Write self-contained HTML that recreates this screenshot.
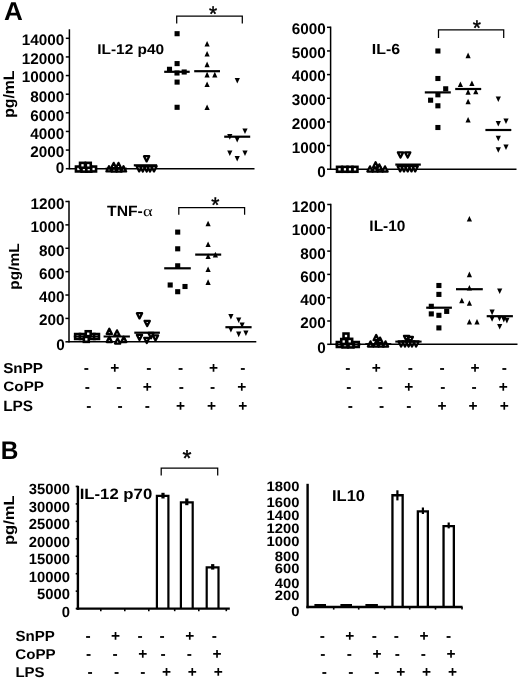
<!DOCTYPE html>
<html><head><meta charset="utf-8"><style>
html,body{margin:0;padding:0;background:#fff;}
svg{display:block;will-change:transform;filter:blur(0.4px);}
text{font-family:"Liberation Sans", sans-serif;font-weight:bold;fill:#000;text-rendering:geometricPrecision;}
.o{fill:#fff;stroke:#000;stroke-width:2.6;stroke-linejoin:miter;}
.t{fill:#fff;stroke:#000;stroke-width:2.3;stroke-linejoin:round;}
</style></head><body>
<svg width="520" height="681" viewBox="0 0 520 681">
<rect width="520" height="681" fill="#fff"/>
<text transform="translate(4.07,20.35) scale(1.0102,1)" font-size="25.80">A</text>
<line x1="69.40" y1="29.25" x2="69.40" y2="169.45" stroke="#000" stroke-width="1.5"/>
<line x1="65.80" y1="168.70" x2="69.40" y2="168.70" stroke="#000" stroke-width="1.5"/>
<text transform="translate(64.36,173.05) scale(1.0000,1.0000)" font-size="15.30" text-anchor="end">0</text>
<line x1="65.80" y1="150.07" x2="69.40" y2="150.07" stroke="#000" stroke-width="1.5"/>
<text transform="translate(64.33,157.25) scale(1.0000,1.0000)" font-size="15.30" text-anchor="end">2000</text>
<line x1="65.80" y1="131.44" x2="69.40" y2="131.44" stroke="#000" stroke-width="1.5"/>
<text transform="translate(64.33,139.15) scale(1.0000,1.0000)" font-size="15.30" text-anchor="end">4000</text>
<line x1="65.80" y1="112.81" x2="69.40" y2="112.81" stroke="#000" stroke-width="1.5"/>
<text transform="translate(64.33,120.95) scale(1.0000,1.0000)" font-size="15.30" text-anchor="end">6000</text>
<line x1="65.80" y1="94.19" x2="69.40" y2="94.19" stroke="#000" stroke-width="1.5"/>
<text transform="translate(64.33,101.65) scale(1.0000,1.0000)" font-size="15.30" text-anchor="end">8000</text>
<line x1="65.80" y1="75.56" x2="69.40" y2="75.56" stroke="#000" stroke-width="1.5"/>
<text transform="translate(64.27,82.45) scale(1.0000,1.0000)" font-size="15.30" text-anchor="end">10000</text>
<line x1="65.80" y1="56.93" x2="69.40" y2="56.93" stroke="#000" stroke-width="1.5"/>
<text transform="translate(64.27,63.65) scale(1.0000,1.0000)" font-size="15.30" text-anchor="end">12000</text>
<line x1="65.80" y1="38.30" x2="69.40" y2="38.30" stroke="#000" stroke-width="1.5"/>
<text transform="translate(64.27,44.95) scale(1.0000,1.0000)" font-size="15.30" text-anchor="end">14000</text>
<line x1="69.40" y1="168.70" x2="254.50" y2="168.70" stroke="#000" stroke-width="1.5"/>
<text transform="translate(97.17,54.35) scale(1.0941,1)" font-size="14.14">IL-12 p40</text>
<text transform="translate(13.50,117.86) rotate(-90) scale(1.0380,1)" font-size="15.21">pg/mL</text>
<path d="M176.70 23.50V16.00H242.30V23.50" fill="none" stroke="#000" stroke-width="1.25"/>
<text transform="translate(208.96,20.99)" font-size="21.00" font-weight="normal" style="font-weight:normal" stroke="#000" stroke-width="0.45">*</text>
<rect x="75.95" y="166.55" width="4.9" height="4.9" class="o"/>
<rect x="81.55" y="166.75" width="4.9" height="4.9" class="o"/>
<rect x="86.35" y="166.75" width="4.9" height="4.9" class="o"/>
<rect x="91.15" y="166.55" width="4.9" height="4.9" class="o"/>
<rect x="80.05" y="162.85" width="4.9" height="4.9" class="o"/>
<rect x="85.85" y="162.85" width="4.9" height="4.9" class="o"/>
<path d="M109.00 166.20L111.60 171.40L106.40 171.40Z" class="t"/>
<path d="M114.00 166.40L116.60 171.60L111.40 171.60Z" class="t"/>
<path d="M119.00 166.40L121.60 171.60L116.40 171.60Z" class="t"/>
<path d="M123.50 166.20L126.10 171.40L120.90 171.40Z" class="t"/>
<path d="M113.70 162.90L116.30 168.10L111.10 168.10Z" class="t"/>
<path d="M118.50 162.90L121.10 168.10L115.90 168.10Z" class="t"/>
<line x1="105.50" y1="168.60" x2="127.10" y2="168.60" stroke="#000" stroke-width="1.8"/>
<path d="M136.60 166.20L141.80 166.20L139.20 171.40Z" class="t"/>
<path d="M140.20 166.40L145.40 166.40L142.80 171.60Z" class="t"/>
<path d="M144.10 166.40L149.30 166.40L146.70 171.60Z" class="t"/>
<path d="M147.40 166.40L152.60 166.40L150.00 171.60Z" class="t"/>
<path d="M151.40 166.20L156.60 166.20L154.00 171.40Z" class="t"/>
<line x1="133.80" y1="165.30" x2="157.10" y2="165.30" stroke="#000" stroke-width="2.2"/>
<path d="M144.00 156.20L149.20 156.20L146.60 161.40Z" class="t"/>
<rect x="174.55" y="31.15" width="5.1" height="5.1"/>
<rect x="174.55" y="61.05" width="5.1" height="5.1"/>
<rect x="166.95" y="66.75" width="5.1" height="5.1"/>
<rect x="174.45" y="70.45" width="5.1" height="5.1"/>
<rect x="181.65" y="69.45" width="5.1" height="5.1"/>
<rect x="174.55" y="79.55" width="5.1" height="5.1"/>
<rect x="174.55" y="104.75" width="5.1" height="5.1"/>
<line x1="164.20" y1="71.80" x2="189.70" y2="71.80" stroke="#000" stroke-width="2.2"/>
<path d="M207.10 40.90L209.70 46.50L204.50 46.50Z"/>
<path d="M207.10 51.00L209.70 56.60L204.50 56.60Z"/>
<path d="M207.10 61.60L209.70 67.20L204.50 67.20Z"/>
<path d="M207.10 71.80L209.70 77.40L204.50 77.40Z"/>
<path d="M214.80 71.80L217.40 77.40L212.20 77.40Z"/>
<path d="M207.10 81.40L209.70 87.00L204.50 87.00Z"/>
<path d="M207.10 104.40L209.70 110.00L204.50 110.00Z"/>
<line x1="194.20" y1="71.20" x2="220.00" y2="71.20" stroke="#000" stroke-width="2.2"/>
<path d="M234.70 78.00L239.90 78.00L237.30 83.60Z"/>
<path d="M242.40 128.40L247.60 128.40L245.00 134.00Z"/>
<path d="M227.20 134.10L232.40 134.10L229.80 139.70Z"/>
<path d="M234.60 137.00L239.80 137.00L237.20 142.60Z"/>
<path d="M227.20 150.50L232.40 150.50L229.80 156.10Z"/>
<path d="M242.40 150.50L247.60 150.50L245.00 156.10Z"/>
<path d="M234.60 156.00L239.80 156.00L237.20 161.60Z"/>
<line x1="224.20" y1="136.70" x2="250.20" y2="136.70" stroke="#000" stroke-width="2.2"/>
<line x1="330.60" y1="26.55" x2="330.60" y2="169.95" stroke="#000" stroke-width="1.5"/>
<line x1="327.00" y1="169.20" x2="330.60" y2="169.20" stroke="#000" stroke-width="1.5"/>
<text transform="translate(325.76,176.55) scale(1.0000,1.0000)" font-size="15.30" text-anchor="end">0</text>
<line x1="327.00" y1="145.55" x2="330.60" y2="145.55" stroke="#000" stroke-width="1.5"/>
<text transform="translate(325.73,152.85) scale(1.0000,1.0000)" font-size="15.30" text-anchor="end">1000</text>
<line x1="327.00" y1="121.90" x2="330.60" y2="121.90" stroke="#000" stroke-width="1.5"/>
<text transform="translate(325.73,129.15) scale(1.0000,1.0000)" font-size="15.30" text-anchor="end">2000</text>
<line x1="327.00" y1="98.25" x2="330.60" y2="98.25" stroke="#000" stroke-width="1.5"/>
<text transform="translate(325.73,104.95) scale(1.0000,1.0000)" font-size="15.30" text-anchor="end">3000</text>
<line x1="327.00" y1="74.60" x2="330.60" y2="74.60" stroke="#000" stroke-width="1.5"/>
<text transform="translate(325.73,81.25) scale(1.0000,1.0000)" font-size="15.30" text-anchor="end">4000</text>
<line x1="327.00" y1="50.95" x2="330.60" y2="50.95" stroke="#000" stroke-width="1.5"/>
<text transform="translate(325.73,57.75) scale(1.0000,1.0000)" font-size="15.30" text-anchor="end">5000</text>
<line x1="327.00" y1="27.30" x2="330.60" y2="27.30" stroke="#000" stroke-width="1.5"/>
<text transform="translate(325.73,34.25) scale(1.0000,1.0000)" font-size="15.30" text-anchor="end">6000</text>
<line x1="330.60" y1="169.20" x2="516.50" y2="169.20" stroke="#000" stroke-width="1.5"/>
<text transform="translate(371.84,53.75) scale(1.0931,1)" font-size="14.57">IL-6</text>
<path d="M438.50 37.90V29.80H503.70V37.90" fill="none" stroke="#000" stroke-width="1.25"/>
<text transform="translate(472.80,35.19)" font-size="21.00" font-weight="normal" style="font-weight:normal" stroke="#000" stroke-width="0.45">*</text>
<rect x="337.05" y="166.85" width="4.9" height="4.9" class="o"/>
<rect x="342.55" y="166.85" width="4.9" height="4.9" class="o"/>
<rect x="347.55" y="166.85" width="4.9" height="4.9" class="o"/>
<rect x="352.55" y="166.85" width="4.9" height="4.9" class="o"/>
<path d="M370.00 166.40L372.60 171.60L367.40 171.60Z" class="t"/>
<path d="M375.00 166.40L377.60 171.60L372.40 171.60Z" class="t"/>
<path d="M380.00 166.40L382.60 171.60L377.40 171.60Z" class="t"/>
<path d="M385.00 166.40L387.60 171.60L382.40 171.60Z" class="t"/>
<path d="M375.60 162.20L378.20 167.40L373.00 167.40Z" class="t"/>
<path d="M379.30 164.40L381.90 169.60L376.70 169.60Z" class="t"/>
<path d="M397.60 166.20L402.80 166.20L400.20 171.40Z" class="t"/>
<path d="M401.40 166.20L406.60 166.20L404.00 171.40Z" class="t"/>
<path d="M405.10 166.20L410.30 166.20L407.70 171.40Z" class="t"/>
<path d="M408.90 166.20L414.10 166.20L411.50 171.40Z" class="t"/>
<path d="M412.60 166.20L417.80 166.20L415.20 171.40Z" class="t"/>
<line x1="395.30" y1="164.60" x2="420.80" y2="164.60" stroke="#000" stroke-width="2.2"/>
<path d="M397.90 152.40L403.10 152.40L400.50 157.60Z" class="t"/>
<path d="M405.10 152.40L410.30 152.40L407.70 157.60Z" class="t"/>
<rect x="435.35" y="48.45" width="5.1" height="5.1"/>
<rect x="435.35" y="75.95" width="5.1" height="5.1"/>
<rect x="443.15" y="86.25" width="5.1" height="5.1"/>
<rect x="435.35" y="92.25" width="5.1" height="5.1"/>
<rect x="428.05" y="97.65" width="5.1" height="5.1"/>
<rect x="435.35" y="103.25" width="5.1" height="5.1"/>
<rect x="435.35" y="124.95" width="5.1" height="5.1"/>
<line x1="424.80" y1="92.40" x2="450.80" y2="92.40" stroke="#000" stroke-width="2.2"/>
<path d="M468.10 52.60L470.70 58.20L465.50 58.20Z"/>
<path d="M460.40 81.40L463.00 87.00L457.80 87.00Z"/>
<path d="M471.90 80.50L474.50 86.10L469.30 86.10Z"/>
<path d="M468.10 89.10L470.70 94.70L465.50 94.70Z"/>
<path d="M475.80 88.70L478.40 94.30L473.20 94.30Z"/>
<path d="M468.10 98.70L470.70 104.30L465.50 104.30Z"/>
<path d="M468.10 117.00L470.70 122.60L465.50 122.60Z"/>
<line x1="455.20" y1="89.00" x2="481.20" y2="89.00" stroke="#000" stroke-width="2.2"/>
<path d="M495.70 96.40L500.90 96.40L498.30 102.00Z"/>
<path d="M495.70 120.90L500.90 120.90L498.30 126.50Z"/>
<path d="M503.40 118.50L508.60 118.50L506.00 124.10Z"/>
<path d="M495.70 135.70L500.90 135.70L498.30 141.30Z"/>
<path d="M495.70 147.20L500.90 147.20L498.30 152.80Z"/>
<path d="M503.40 144.50L508.60 144.50L506.00 150.10Z"/>
<line x1="485.40" y1="130.00" x2="511.30" y2="130.00" stroke="#000" stroke-width="2.2"/>
<line x1="69.00" y1="200.75" x2="69.00" y2="342.55" stroke="#000" stroke-width="1.5"/>
<line x1="65.40" y1="341.80" x2="69.00" y2="341.80" stroke="#000" stroke-width="1.5"/>
<text transform="translate(64.66,350.25) scale(1.0000,1.0000)" font-size="15.30" text-anchor="end">0</text>
<line x1="65.40" y1="318.42" x2="69.00" y2="318.42" stroke="#000" stroke-width="1.5"/>
<text transform="translate(64.54,324.75) scale(1.0000,1.0000)" font-size="15.30" text-anchor="end">200</text>
<line x1="65.40" y1="295.03" x2="69.00" y2="295.03" stroke="#000" stroke-width="1.5"/>
<text transform="translate(64.54,301.75) scale(1.0000,1.0000)" font-size="15.30" text-anchor="end">400</text>
<line x1="65.40" y1="271.65" x2="69.00" y2="271.65" stroke="#000" stroke-width="1.5"/>
<text transform="translate(64.54,278.85) scale(1.0000,1.0000)" font-size="15.30" text-anchor="end">600</text>
<line x1="65.40" y1="248.27" x2="69.00" y2="248.27" stroke="#000" stroke-width="1.5"/>
<text transform="translate(64.54,255.65) scale(1.0000,1.0000)" font-size="15.30" text-anchor="end">800</text>
<line x1="65.40" y1="224.88" x2="69.00" y2="224.88" stroke="#000" stroke-width="1.5"/>
<text transform="translate(64.63,232.35) scale(1.0000,1.0000)" font-size="15.30" text-anchor="end">1000</text>
<line x1="65.40" y1="201.50" x2="69.00" y2="201.50" stroke="#000" stroke-width="1.5"/>
<text transform="translate(64.63,208.65) scale(1.0000,1.0000)" font-size="15.30" text-anchor="end">1200</text>
<line x1="69.00" y1="341.80" x2="256.30" y2="341.80" stroke="#000" stroke-width="1.5"/>
<text transform="translate(107.09,215.95) scale(1.0617,1)" font-size="14.78">TNF-</text>
<text transform="translate(143.01,216.25) scale(1.2407,1)" font-size="14.89" style="font-family:&quot;Liberation Serif&quot;,serif;font-weight:normal">α</text>
<text transform="translate(19.20,289.63) rotate(-90) scale(1.0678,1)" font-size="14.50">pg/mL</text>
<path d="M178.80 214.80V207.50H244.60V214.80" fill="none" stroke="#000" stroke-width="1.25"/>
<text transform="translate(211.31,211.99)" font-size="21.00" font-weight="normal" style="font-weight:normal" stroke="#000" stroke-width="0.45">*</text>
<rect x="75.15" y="334.05" width="4.9" height="4.9" class="o"/>
<rect x="79.95" y="334.05" width="4.9" height="4.9" class="o"/>
<rect x="89.55" y="334.05" width="4.9" height="4.9" class="o"/>
<rect x="94.05" y="334.05" width="4.9" height="4.9" class="o"/>
<rect x="83.85" y="336.95" width="4.9" height="4.9" class="o"/>
<rect x="85.75" y="331.25" width="4.9" height="4.9" class="o"/>
<line x1="73.80" y1="336.50" x2="99.70" y2="336.50" stroke="#000" stroke-width="1.8"/>
<path d="M109.30 328.70L111.90 333.90L106.70 333.90Z" class="t"/>
<path d="M117.00 330.40L119.60 335.60L114.40 335.60Z" class="t"/>
<path d="M109.30 336.80L111.90 342.00L106.70 342.00Z" class="t"/>
<path d="M117.60 338.40L120.20 343.60L115.00 343.60Z" class="t"/>
<path d="M123.80 336.80L126.40 342.00L121.20 342.00Z" class="t"/>
<line x1="103.60" y1="336.50" x2="129.90" y2="336.50" stroke="#000" stroke-width="2.0"/>
<path d="M136.90 313.20L142.10 313.20L139.50 318.40Z" class="t"/>
<path d="M144.60 320.90L149.80 320.90L147.20 326.10Z" class="t"/>
<path d="M136.90 334.90L142.10 334.90L139.50 340.10Z" class="t"/>
<path d="M144.20 337.80L149.40 337.80L146.80 343.00Z" class="t"/>
<path d="M148.40 333.00L153.60 333.00L151.00 338.20Z" class="t"/>
<path d="M152.90 335.40L158.10 335.40L155.50 340.60Z" class="t"/>
<line x1="134.30" y1="332.70" x2="159.90" y2="332.70" stroke="#000" stroke-width="2.2"/>
<rect x="175.15" y="229.55" width="5.1" height="5.1"/>
<rect x="175.15" y="246.25" width="5.1" height="5.1"/>
<rect x="175.15" y="263.25" width="5.1" height="5.1"/>
<rect x="167.65" y="282.45" width="5.1" height="5.1"/>
<rect x="182.45" y="283.95" width="5.1" height="5.1"/>
<rect x="175.15" y="289.15" width="5.1" height="5.1"/>
<line x1="164.20" y1="268.30" x2="190.80" y2="268.30" stroke="#000" stroke-width="2.2"/>
<path d="M208.10 220.70L210.70 226.30L205.50 226.30Z"/>
<path d="M208.10 241.40L210.70 247.00L205.50 247.00Z"/>
<path d="M208.10 253.40L210.70 259.00L205.50 259.00Z"/>
<path d="M215.40 251.80L218.00 257.40L212.80 257.40Z"/>
<path d="M208.10 266.40L210.70 272.00L205.50 272.00Z"/>
<path d="M208.10 279.30L210.70 284.90L205.50 284.90Z"/>
<line x1="195.20" y1="254.60" x2="221.20" y2="254.60" stroke="#000" stroke-width="2.2"/>
<path d="M228.30 314.00L233.50 314.00L230.90 319.60Z"/>
<path d="M236.10 317.40L241.30 317.40L238.70 323.00Z"/>
<path d="M239.50 322.40L244.70 322.40L242.10 328.00Z"/>
<path d="M228.30 327.00L233.50 327.00L230.90 332.60Z"/>
<path d="M236.10 331.60L241.30 331.60L238.70 337.20Z"/>
<path d="M243.30 330.50L248.50 330.50L245.90 336.10Z"/>
<line x1="225.40" y1="327.20" x2="251.60" y2="327.20" stroke="#000" stroke-width="2.2"/>
<line x1="330.80" y1="203.75" x2="330.80" y2="345.05" stroke="#000" stroke-width="1.5"/>
<line x1="327.20" y1="344.30" x2="330.80" y2="344.30" stroke="#000" stroke-width="1.5"/>
<text transform="translate(325.86,352.75) scale(1.0000,1.0000)" font-size="15.30" text-anchor="end">0</text>
<line x1="327.20" y1="321.00" x2="330.80" y2="321.00" stroke="#000" stroke-width="1.5"/>
<text transform="translate(325.74,327.65) scale(1.0000,1.0000)" font-size="15.30" text-anchor="end">200</text>
<line x1="327.20" y1="297.70" x2="330.80" y2="297.70" stroke="#000" stroke-width="1.5"/>
<text transform="translate(325.74,304.75) scale(1.0000,1.0000)" font-size="15.30" text-anchor="end">400</text>
<line x1="327.20" y1="274.40" x2="330.80" y2="274.40" stroke="#000" stroke-width="1.5"/>
<text transform="translate(325.74,282.35) scale(1.0000,1.0000)" font-size="15.30" text-anchor="end">600</text>
<line x1="327.20" y1="251.10" x2="330.80" y2="251.10" stroke="#000" stroke-width="1.5"/>
<text transform="translate(325.74,258.65) scale(1.0000,1.0000)" font-size="15.30" text-anchor="end">800</text>
<line x1="327.20" y1="227.80" x2="330.80" y2="227.80" stroke="#000" stroke-width="1.5"/>
<text transform="translate(325.83,235.35) scale(1.0000,1.0000)" font-size="15.30" text-anchor="end">1000</text>
<line x1="327.20" y1="204.50" x2="330.80" y2="204.50" stroke="#000" stroke-width="1.5"/>
<text transform="translate(325.83,211.85) scale(1.0000,1.0000)" font-size="15.30" text-anchor="end">1200</text>
<line x1="330.80" y1="344.30" x2="517.50" y2="344.30" stroke="#000" stroke-width="1.5"/>
<text transform="translate(369.37,230.65) scale(1.0203,1)" font-size="15.14">IL-10</text>
<rect x="336.85" y="342.05" width="4.9" height="4.9" class="o"/>
<rect x="342.55" y="342.55" width="4.9" height="4.9" class="o"/>
<rect x="348.55" y="342.55" width="4.9" height="4.9" class="o"/>
<rect x="353.85" y="342.05" width="4.9" height="4.9" class="o"/>
<rect x="341.25" y="339.05" width="4.9" height="4.9" class="o"/>
<rect x="347.25" y="338.85" width="4.9" height="4.9" class="o"/>
<rect x="343.55" y="333.55" width="4.9" height="4.9" class="o"/>
<line x1="335.30" y1="344.40" x2="360.70" y2="344.40" stroke="#000" stroke-width="1.8"/>
<path d="M370.50 341.40L373.10 346.60L367.90 346.60Z" class="t"/>
<path d="M376.00 341.40L378.60 346.60L373.40 346.60Z" class="t"/>
<path d="M381.00 341.40L383.60 346.60L378.40 346.60Z" class="t"/>
<path d="M385.50 341.40L388.10 346.60L382.90 346.60Z" class="t"/>
<path d="M380.00 337.60L382.60 342.80L377.40 342.80Z" class="t"/>
<path d="M376.20 335.00L378.80 340.20L373.60 340.20Z" class="t"/>
<line x1="365.30" y1="344.00" x2="391.30" y2="344.00" stroke="#000" stroke-width="1.8"/>
<path d="M398.50 341.40L403.70 341.40L401.10 346.60Z" class="t"/>
<path d="M402.40 341.40L407.60 341.40L405.00 346.60Z" class="t"/>
<path d="M406.00 341.40L411.20 341.40L408.60 346.60Z" class="t"/>
<path d="M409.40 341.40L414.60 341.40L412.00 346.60Z" class="t"/>
<path d="M413.50 341.40L418.70 341.40L416.10 346.60Z" class="t"/>
<path d="M404.00 335.90L409.20 335.90L406.60 341.10Z" class="t"/>
<path d="M407.70 336.90L412.90 336.90L410.30 342.10Z" class="t"/>
<line x1="395.30" y1="341.60" x2="421.60" y2="341.60" stroke="#000" stroke-width="2.0"/>
<rect x="436.35" y="282.95" width="5.1" height="5.1"/>
<rect x="436.35" y="291.85" width="5.1" height="5.1"/>
<rect x="428.75" y="303.75" width="5.1" height="5.1"/>
<rect x="428.75" y="311.35" width="5.1" height="5.1"/>
<rect x="436.35" y="312.75" width="5.1" height="5.1"/>
<rect x="444.15" y="308.85" width="5.1" height="5.1"/>
<rect x="436.35" y="325.35" width="5.1" height="5.1"/>
<line x1="426.20" y1="307.70" x2="451.90" y2="307.70" stroke="#000" stroke-width="2.2"/>
<path d="M469.40 216.00L472.00 221.60L466.80 221.60Z"/>
<path d="M469.40 271.60L472.00 277.20L466.80 277.20Z"/>
<path d="M469.40 285.00L472.00 290.60L466.80 290.60Z"/>
<path d="M461.80 297.70L464.40 303.30L459.20 303.30Z"/>
<path d="M469.40 300.20L472.00 305.80L466.80 305.80Z"/>
<path d="M469.40 318.90L472.00 324.50L466.80 324.50Z"/>
<path d="M477.00 318.90L479.60 324.50L474.40 324.50Z"/>
<line x1="456.00" y1="289.20" x2="482.80" y2="289.20" stroke="#000" stroke-width="2.2"/>
<path d="M497.10 288.50L502.30 288.50L499.70 294.10Z"/>
<path d="M489.50 309.60L494.70 309.60L492.10 315.20Z"/>
<path d="M489.50 316.20L494.70 316.20L492.10 321.80Z"/>
<path d="M496.90 315.70L502.10 315.70L499.50 321.30Z"/>
<path d="M501.20 316.80L506.40 316.80L503.80 322.40Z"/>
<path d="M504.30 317.80L509.50 317.80L506.90 323.40Z"/>
<path d="M497.10 324.00L502.30 324.00L499.70 329.60Z"/>
<line x1="486.70" y1="316.20" x2="512.90" y2="316.20" stroke="#000" stroke-width="2.2"/>
<text transform="translate(3.19,372.65) scale(1.0573,1)" font-size="14.43">SnPP</text>
<text transform="translate(3.34,391.45) scale(1.1135,1)" font-size="13.71">CoPP</text>
<text transform="translate(3.17,410.75) scale(1.0273,1)" font-size="15.00">LPS</text>
<text transform="translate(83.74,373.20) scale(1.0000,1)" font-size="15.50">-</text>
<text transform="translate(110.30,373.20) scale(1.0000,1)" font-size="15.50">+</text>
<text transform="translate(146.24,373.20) scale(1.0000,1)" font-size="15.50">-</text>
<text transform="translate(178.04,373.20) scale(1.0000,1)" font-size="15.50">-</text>
<text transform="translate(209.00,373.20) scale(1.0000,1)" font-size="15.50">+</text>
<text transform="translate(240.14,373.20) scale(1.0000,1)" font-size="15.50">-</text>
<text transform="translate(84.74,392.20) scale(1.0000,1)" font-size="15.50">-</text>
<text transform="translate(116.14,392.20) scale(1.0000,1)" font-size="15.50">-</text>
<text transform="translate(142.81,392.20) scale(1.0000,1)" font-size="15.50">+</text>
<text transform="translate(178.64,392.20) scale(1.0000,1)" font-size="15.50">-</text>
<text transform="translate(209.94,392.20) scale(1.0000,1)" font-size="15.50">-</text>
<text transform="translate(237.20,392.20) scale(1.0000,1)" font-size="15.50">+</text>
<text transform="translate(86.14,411.20) scale(1.0000,1)" font-size="15.50">-</text>
<text transform="translate(117.44,411.20) scale(1.0000,1)" font-size="15.50">-</text>
<text transform="translate(144.74,411.20) scale(1.0000,1)" font-size="15.50">-</text>
<text transform="translate(176.10,411.20) scale(1.0000,1)" font-size="15.50">+</text>
<text transform="translate(207.00,411.20) scale(1.0000,1)" font-size="15.50">+</text>
<text transform="translate(238.20,411.20) scale(1.0000,1)" font-size="15.50">+</text>
<text transform="translate(345.24,373.20) scale(1.0000,1)" font-size="15.50">-</text>
<text transform="translate(371.81,373.20) scale(1.0000,1)" font-size="15.50">+</text>
<text transform="translate(407.74,373.20) scale(1.0000,1)" font-size="15.50">-</text>
<text transform="translate(439.54,373.20) scale(1.0000,1)" font-size="15.50">-</text>
<text transform="translate(470.50,373.20) scale(1.0000,1)" font-size="15.50">+</text>
<text transform="translate(501.64,373.20) scale(1.0000,1)" font-size="15.50">-</text>
<text transform="translate(346.24,392.20) scale(1.0000,1)" font-size="15.50">-</text>
<text transform="translate(377.64,392.20) scale(1.0000,1)" font-size="15.50">-</text>
<text transform="translate(404.31,392.20) scale(1.0000,1)" font-size="15.50">+</text>
<text transform="translate(440.14,392.20) scale(1.0000,1)" font-size="15.50">-</text>
<text transform="translate(471.44,392.20) scale(1.0000,1)" font-size="15.50">-</text>
<text transform="translate(498.70,392.20) scale(1.0000,1)" font-size="15.50">+</text>
<text transform="translate(347.64,411.20) scale(1.0000,1)" font-size="15.50">-</text>
<text transform="translate(378.94,411.20) scale(1.0000,1)" font-size="15.50">-</text>
<text transform="translate(406.24,411.20) scale(1.0000,1)" font-size="15.50">-</text>
<text transform="translate(437.61,411.20) scale(1.0000,1)" font-size="15.50">+</text>
<text transform="translate(468.50,411.20) scale(1.0000,1)" font-size="15.50">+</text>
<text transform="translate(499.70,411.20) scale(1.0000,1)" font-size="15.50">+</text>
<text transform="translate(0.64,458.85) scale(0.9576,1)" font-size="25.51">B</text>
<text transform="translate(70.03,616.95) scale(1.0000,1.0000)" font-size="14.80" text-anchor="end">0</text>
<text transform="translate(70.01,599.43) scale(1.0000,1.0000)" font-size="14.80" text-anchor="end">5000</text>
<text transform="translate(69.95,581.91) scale(1.0000,1.0000)" font-size="14.80" text-anchor="end">10000</text>
<text transform="translate(69.95,564.39) scale(1.0000,1.0000)" font-size="14.80" text-anchor="end">15000</text>
<text transform="translate(69.95,546.87) scale(1.0000,1.0000)" font-size="14.80" text-anchor="end">20000</text>
<text transform="translate(69.95,529.35) scale(1.0000,1.0000)" font-size="14.80" text-anchor="end">25000</text>
<text transform="translate(69.95,511.83) scale(1.0000,1.0000)" font-size="14.80" text-anchor="end">30000</text>
<text transform="translate(69.95,494.31) scale(1.0000,1.0000)" font-size="14.80" text-anchor="end">35000</text>
<line x1="77.90" y1="485.80" x2="77.90" y2="609.80" stroke="#000" stroke-width="2.4"/>
<line x1="76.70" y1="608.60" x2="229.80" y2="608.60" stroke="#000" stroke-width="2.4"/>
<line x1="75.70" y1="608.60" x2="77.90" y2="608.60" stroke="#000" stroke-width="1.6"/>
<line x1="75.70" y1="591.15" x2="77.90" y2="591.15" stroke="#000" stroke-width="1.6"/>
<line x1="75.70" y1="573.70" x2="77.90" y2="573.70" stroke="#000" stroke-width="1.6"/>
<line x1="75.70" y1="556.25" x2="77.90" y2="556.25" stroke="#000" stroke-width="1.6"/>
<line x1="75.70" y1="538.80" x2="77.90" y2="538.80" stroke="#000" stroke-width="1.6"/>
<line x1="75.70" y1="521.35" x2="77.90" y2="521.35" stroke="#000" stroke-width="1.6"/>
<line x1="75.70" y1="503.90" x2="77.90" y2="503.90" stroke="#000" stroke-width="1.6"/>
<line x1="75.70" y1="486.45" x2="77.90" y2="486.45" stroke="#000" stroke-width="1.6"/>
<line x1="100.80" y1="608.60" x2="100.80" y2="611.20" stroke="#000" stroke-width="1.6"/>
<line x1="124.80" y1="608.60" x2="124.80" y2="611.20" stroke="#000" stroke-width="1.6"/>
<line x1="148.80" y1="608.60" x2="148.80" y2="611.20" stroke="#000" stroke-width="1.6"/>
<line x1="174.70" y1="608.60" x2="174.70" y2="611.20" stroke="#000" stroke-width="1.6"/>
<line x1="198.80" y1="608.60" x2="198.80" y2="611.20" stroke="#000" stroke-width="1.6"/>
<line x1="226.30" y1="608.60" x2="226.30" y2="611.20" stroke="#000" stroke-width="1.6"/>
<text transform="translate(79.68,499.05) scale(1.1153,1)" font-size="15.00">IL-12 p70</text>
<text transform="translate(13.70,545.01) rotate(-90) scale(1.1194,1)" font-size="14.79">pg/mL</text>
<path d="M161.20 475.40V468.00H217.70V475.40" fill="none" stroke="#000" stroke-width="1.25"/>
<text transform="translate(182.51,466.17)" font-size="23.00" font-weight="normal" style="font-weight:normal" stroke="#000" stroke-width="0.45">*</text>
<path d="M156.90 608.60V495.90H168.40V608.60" fill="none" stroke="#000" stroke-width="2.2"/>
<line x1="163.00" y1="492.80" x2="163.00" y2="498.50" stroke="#000" stroke-width="3.2"/>
<path d="M180.90 608.60V502.30H192.70V608.60" fill="none" stroke="#000" stroke-width="2.2"/>
<line x1="186.80" y1="498.50" x2="186.80" y2="505.20" stroke="#000" stroke-width="3.2"/>
<path d="M206.70 608.60V567.30H218.50V608.60" fill="none" stroke="#000" stroke-width="2.2"/>
<line x1="212.70" y1="564.10" x2="212.70" y2="569.60" stroke="#000" stroke-width="3.2"/>
<text transform="translate(299.53,615.55) scale(1.0000,0.9300)" font-size="14.80" text-anchor="end">0</text>
<text transform="translate(299.42,600.15) scale(1.0000,0.9300)" font-size="14.80" text-anchor="end">200</text>
<text transform="translate(299.42,587.55) scale(1.0000,0.9300)" font-size="14.80" text-anchor="end">400</text>
<text transform="translate(299.42,573.35) scale(1.0000,0.9300)" font-size="14.80" text-anchor="end">600</text>
<text transform="translate(299.42,561.05) scale(1.0000,0.9300)" font-size="14.80" text-anchor="end">800</text>
<text transform="translate(299.51,546.05) scale(1.0000,0.9300)" font-size="14.80" text-anchor="end">1000</text>
<text transform="translate(299.51,532.65) scale(1.0000,0.9300)" font-size="14.80" text-anchor="end">1200</text>
<text transform="translate(299.51,519.85) scale(1.0000,0.9300)" font-size="14.80" text-anchor="end">1400</text>
<text transform="translate(299.51,506.65) scale(1.0000,0.9300)" font-size="14.80" text-anchor="end">1600</text>
<text transform="translate(299.51,491.05) scale(1.0000,0.9300)" font-size="14.80" text-anchor="end">1800</text>
<line x1="307.60" y1="483.80" x2="307.60" y2="608.20" stroke="#000" stroke-width="2.4"/>
<line x1="306.40" y1="607.00" x2="462.60" y2="607.00" stroke="#000" stroke-width="2.4"/>
<line x1="333.70" y1="607.00" x2="333.70" y2="609.60" stroke="#000" stroke-width="1.6"/>
<line x1="358.70" y1="607.00" x2="358.70" y2="609.60" stroke="#000" stroke-width="1.6"/>
<line x1="384.60" y1="607.00" x2="384.60" y2="609.60" stroke="#000" stroke-width="1.6"/>
<line x1="409.70" y1="607.00" x2="409.70" y2="609.60" stroke="#000" stroke-width="1.6"/>
<line x1="435.50" y1="607.00" x2="435.50" y2="609.60" stroke="#000" stroke-width="1.6"/>
<line x1="462.00" y1="607.00" x2="462.00" y2="609.60" stroke="#000" stroke-width="1.6"/>
<text transform="translate(331.99,501.35) scale(1.0505,1)" font-size="15.71">IL10</text>
<rect x="314.40" y="604.00" width="11.60" height="2"/>
<rect x="340.40" y="604.00" width="11.60" height="2"/>
<rect x="365.40" y="604.00" width="12.50" height="2"/>
<path d="M392.45 607.00V495.25H402.65V607.00" fill="none" stroke="#000" stroke-width="2.3"/>
<line x1="397.40" y1="490.30" x2="397.40" y2="500.40" stroke="#000" stroke-width="2.2"/>
<path d="M417.85 607.00V511.35H427.85V607.00" fill="none" stroke="#000" stroke-width="2.3"/>
<line x1="422.90" y1="507.50" x2="422.90" y2="514.00" stroke="#000" stroke-width="2.2"/>
<path d="M443.55 607.00V526.15H453.85V607.00" fill="none" stroke="#000" stroke-width="2.3"/>
<line x1="448.70" y1="522.50" x2="448.70" y2="528.40" stroke="#000" stroke-width="2.2"/>
<text transform="translate(15.50,640.95) scale(1.0261,1)" font-size="14.71">SnPP</text>
<text transform="translate(15.34,658.95) scale(1.0702,1)" font-size="14.14">CoPP</text>
<text transform="translate(15.40,677.05) scale(1.0625,1)" font-size="14.14">LPS</text>
<text transform="translate(85.54,641.10) scale(1.0000,1)" font-size="15.50">-</text>
<text transform="translate(111.00,641.10) scale(1.0000,1)" font-size="15.50">+</text>
<text transform="translate(137.54,641.10) scale(1.0000,1)" font-size="15.50">-</text>
<text transform="translate(159.44,641.10) scale(1.0000,1)" font-size="15.50">-</text>
<text transform="translate(185.20,641.10) scale(1.0000,1)" font-size="15.50">+</text>
<text transform="translate(211.74,641.10) scale(1.0000,1)" font-size="15.50">-</text>
<text transform="translate(85.94,659.30) scale(1.0000,1)" font-size="15.50">-</text>
<text transform="translate(112.44,659.30) scale(1.0000,1)" font-size="15.50">-</text>
<text transform="translate(138.20,659.30) scale(1.0000,1)" font-size="15.50">+</text>
<text transform="translate(160.54,659.30) scale(1.0000,1)" font-size="15.50">-</text>
<text transform="translate(186.64,659.30) scale(1.0000,1)" font-size="15.50">-</text>
<text transform="translate(212.41,659.30) scale(1.0000,1)" font-size="15.50">+</text>
<text transform="translate(87.54,677.40) scale(1.0000,1)" font-size="15.50">-</text>
<text transform="translate(113.94,677.40) scale(1.0000,1)" font-size="15.50">-</text>
<text transform="translate(140.14,677.40) scale(1.0000,1)" font-size="15.50">-</text>
<text transform="translate(162.10,677.40) scale(1.0000,1)" font-size="15.50">+</text>
<text transform="translate(187.81,677.40) scale(1.0000,1)" font-size="15.50">+</text>
<text transform="translate(213.70,677.40) scale(1.0000,1)" font-size="15.50">+</text>
<text transform="translate(319.74,641.10) scale(1.0000,1)" font-size="15.50">-</text>
<text transform="translate(345.20,641.10) scale(1.0000,1)" font-size="15.50">+</text>
<text transform="translate(371.74,641.10) scale(1.0000,1)" font-size="15.50">-</text>
<text transform="translate(393.64,641.10) scale(1.0000,1)" font-size="15.50">-</text>
<text transform="translate(419.40,641.10) scale(1.0000,1)" font-size="15.50">+</text>
<text transform="translate(445.94,641.10) scale(1.0000,1)" font-size="15.50">-</text>
<text transform="translate(320.14,659.30) scale(1.0000,1)" font-size="15.50">-</text>
<text transform="translate(346.64,659.30) scale(1.0000,1)" font-size="15.50">-</text>
<text transform="translate(372.40,659.30) scale(1.0000,1)" font-size="15.50">+</text>
<text transform="translate(394.74,659.30) scale(1.0000,1)" font-size="15.50">-</text>
<text transform="translate(420.84,659.30) scale(1.0000,1)" font-size="15.50">-</text>
<text transform="translate(446.61,659.30) scale(1.0000,1)" font-size="15.50">+</text>
<text transform="translate(321.74,677.40) scale(1.0000,1)" font-size="15.50">-</text>
<text transform="translate(348.14,677.40) scale(1.0000,1)" font-size="15.50">-</text>
<text transform="translate(374.34,677.40) scale(1.0000,1)" font-size="15.50">-</text>
<text transform="translate(396.30,677.40) scale(1.0000,1)" font-size="15.50">+</text>
<text transform="translate(422.00,677.40) scale(1.0000,1)" font-size="15.50">+</text>
<text transform="translate(447.90,677.40) scale(1.0000,1)" font-size="15.50">+</text>
</svg>
</body></html>
